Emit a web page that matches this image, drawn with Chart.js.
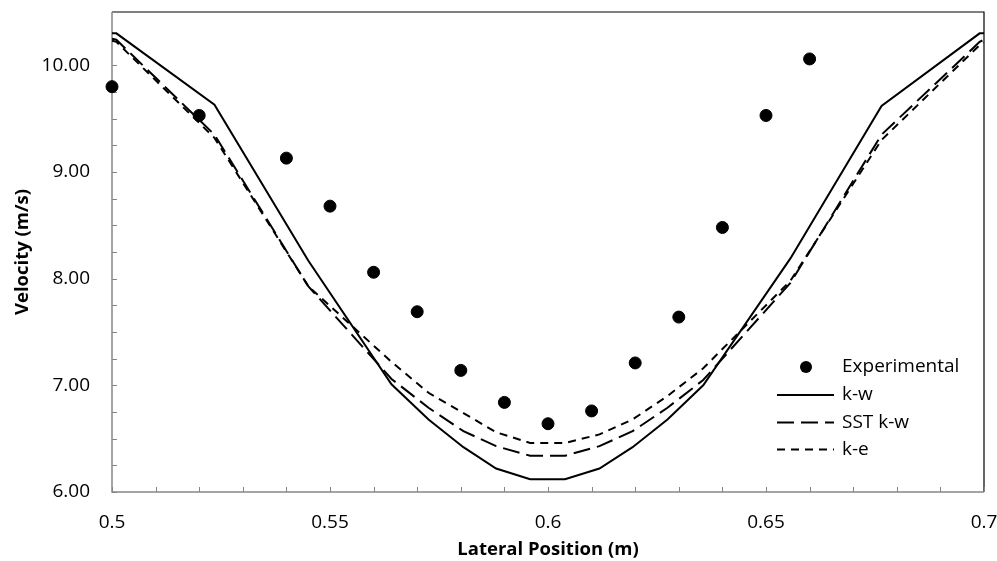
<!DOCTYPE html>
<html>
<head>
<meta charset="utf-8">
<script src="https://cdn.jsdelivr.net/npm/chart.js@4"></script>
<style>
  body { margin: 0; background: #fff; }
  canvas { display: block; }
</style>
</head>
<body>
<canvas id="velChart" width="997" height="561"></canvas>
<script>
// experimental measurements
const expX = [0.50, 0.52, 0.54, 0.55, 0.56, 0.57, 0.58, 0.59, 0.60, 0.61, 0.62, 0.63, 0.64, 0.65, 0.66];
const expV = [9.80, 9.53, 9.13, 8.68, 8.06, 7.69, 7.14, 6.84, 6.64, 6.76, 7.21, 7.64, 8.48, 9.53, 10.06];

// CFD results (same mesh nodes for the three models)
const cfdX = [0.5, 0.501, 0.5235, 0.545, 0.5641, 0.5726, 0.5806, 0.5881, 0.5959, 0.6039, 0.6118, 0.6194, 0.6274, 0.6356, 0.6556, 0.6765, 0.699, 0.7];
const kwV  = [10.30, 10.30, 9.63, 8.17, 7.01, 6.68, 6.42, 6.22, 6.12, 6.12, 6.22, 6.42, 6.68, 7.00, 8.19, 9.62, 10.30, 10.30];
const sstV = [10.25, 10.24, 9.35, 7.93, 7.06, 6.79, 6.57, 6.43, 6.34, 6.34, 6.43, 6.57, 6.79, 7.05, 7.96, 9.35, 10.22, 10.24];
const keV  = [10.23, 10.22, 9.32, 7.93, 7.22, 6.93, 6.74, 6.56, 6.46, 6.46, 6.54, 6.68, 6.90, 7.16, 7.98, 9.30, 10.19, 10.21];

const seriesNames = ["Experimental", "k-w", "SST k-w", "k-e"];

const pts = (xs, ys) => xs.map((x, i) => ({ x: x, y: ys[i] }));

const FONT = "'Open Sans', sans-serif";

// axis lines, inward minor ticks, black frame on top/right
const frame = {
  id: "frame",
  beforeDatasetsDraw(chart) {
    const { ctx, chartArea: a, scales } = chart;
    const xs = scales.x, ys = scales.y;
    ctx.save();
    ctx.strokeStyle = "#000";
    ctx.lineWidth = 1.2;
    ctx.beginPath();
    ctx.moveTo(a.left, a.top);
    ctx.lineTo(a.right, a.top);
    ctx.lineTo(a.right, a.bottom);
    ctx.stroke();

    ctx.strokeStyle = "#868686";
    ctx.lineWidth = 1.5;
    ctx.beginPath();
    ctx.moveTo(a.left, a.top);
    ctx.lineTo(a.left, a.bottom);
    ctx.lineTo(a.right, a.bottom);
    ctx.stroke();

    ctx.lineWidth = 1;
    ctx.beginPath();
    for (let v = 6; v <= 10.5 + 1e-9; v += 0.25) {
      const py = Math.round(ys.getPixelForValue(v)) + 0.5;
      ctx.moveTo(a.left, py);
      ctx.lineTo(a.left + 5, py);
    }
    for (let k = 0; k <= 20; k++) {
      const px = Math.round(xs.getPixelForValue(0.5 + k * 0.01)) + 0.5;
      ctx.moveTo(px, a.bottom);
      ctx.lineTo(px, a.bottom - 5);
    }
    ctx.stroke();
    ctx.restore();
  }
};

// legend drawn inside the plot, lower right
const innerLegend = {
  id: "innerLegend",
  afterDraw(chart) {
    const { ctx, chartArea: a } = chart;
    const rows = [-125, -97, -69.5, -42.5];
    ctx.save();
    ctx.font = "19px " + FONT;
    ctx.textBaseline = "middle";
    ctx.fillStyle = "#000";
    chart.data.datasets.forEach((ds, i) => {
      const y = a.bottom + rows[i];
      if (i === 0) {
        ctx.beginPath();
        ctx.arc(a.right - 178, y, ds.pointRadius, 0, Math.PI * 2);
        ctx.fill();
      } else {
        ctx.strokeStyle = ds.borderColor;
        ctx.lineWidth = ds.borderWidth;
        ctx.setLineDash(ds.borderDash || []);
        ctx.beginPath();
        ctx.moveTo(a.right - 207, y);
        ctx.lineTo(a.right - 150, y);
        ctx.stroke();
        ctx.setLineDash([]);
      }
      ctx.fillText(ds.label, a.right - 142, y);
    });
    ctx.restore();
  }
};

new Chart(document.getElementById("velChart"), {
  type: "scatter",
  data: {
    datasets: [
      {
        label: seriesNames[0],
        data: pts(expX, expV),
        backgroundColor: "#000",
        borderColor: "#000",
        pointRadius: 6,
        showLine: false,
        clip: false
      },
      {
        label: seriesNames[1],
        data: pts(cfdX, kwV),
        showLine: true,
        borderColor: "#000",
        borderWidth: 2,
        pointRadius: 0
      },
      {
        label: seriesNames[2],
        data: pts(cfdX, sstV),
        showLine: true,
        borderColor: "#000",
        borderWidth: 2,
        borderDash: [17, 7],
        pointRadius: 0
      },
      {
        label: seriesNames[3],
        data: pts(cfdX, keV),
        showLine: true,
        borderColor: "#000",
        borderWidth: 2,
        borderDash: [8, 6],
        pointRadius: 0
      }
    ]
  },
  options: {
    responsive: false,
    animation: false,
    layout: { padding: { top: 12, right: 13, left: 0, bottom: 0 } },
    plugins: {
      legend: { display: false },
      tooltip: { enabled: false }
    },
    scales: {
      x: {
        type: "linear",
        min: 0.5,
        max: 0.7,
        grid: { display: false, drawTicks: false },
        border: { display: false },
        ticks: {
          stepSize: 0.05,
          padding: 19,
          color: "#000",
          font: { family: FONT, size: 19 },
          callback: v => String(parseFloat(v.toFixed(2)))
        },
        title: {
          display: true,
          text: "Lateral Position (m)",
          color: "#000",
          padding: { top: 0, bottom: 0 },
          font: { family: FONT, size: 18.5, weight: "bold" }
        },
        afterFit: s => {
          s.height = 69;
          s.paddingLeft = 0;
          s.paddingRight = 0;
        }
      },
      y: {
        min: 6,
        max: 10.5,
        grid: { display: false, drawTicks: false },
        border: { display: false },
        ticks: {
          stepSize: 1,
          padding: 22,
          color: "#000",
          font: { family: FONT, size: 19 },
          callback: v => Number.isInteger(v) ? v.toFixed(2) : ""
        },
        title: {
          display: true,
          text: "Velocity (m/s)",
          color: "#000",
          padding: { top: 12, bottom: 0 },
          font: { family: FONT, size: 18.5, weight: "bold" }
        },
        afterFit: s => {
          s.width = 112;
          s.paddingTop = 0;
          s.paddingBottom = 0;
        }
      }
    }
  },
  plugins: [frame, innerLegend]
});
</script>
</body>
</html>
